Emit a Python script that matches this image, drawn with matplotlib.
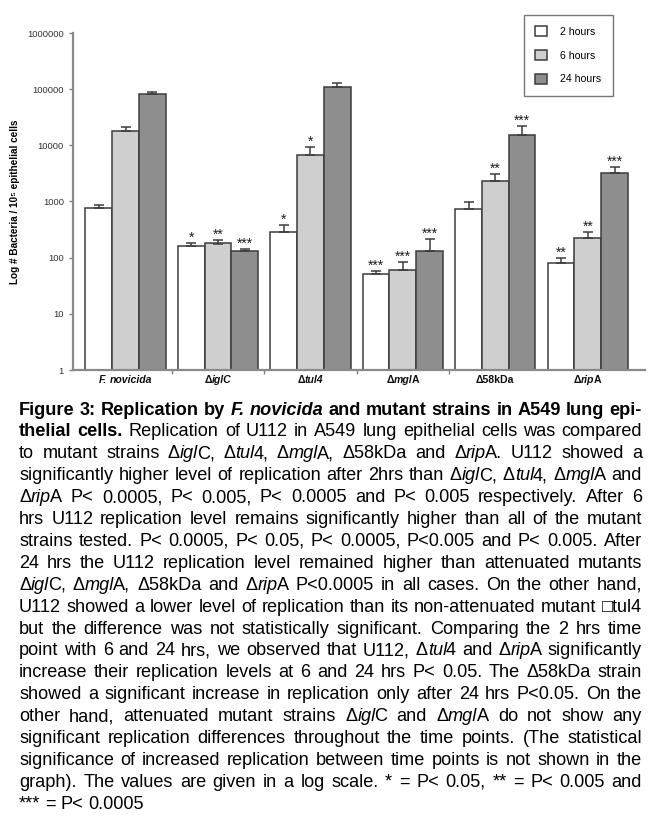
import re
import matplotlib
matplotlib.use('Agg')
import matplotlib.pyplot as plt
import numpy as np

W, H = 659, 830

# data (log scale)
strains = ['<bi>F. novicida</bi>', '<b>Δ</b><bi>iglC</bi>', '<b>Δ</b><bi>tul4</bi>',
           '<b>Δ</b><bi>mgl</bi><b>A</b>', '<b>Δ58kDa</b>', '<b>Δ</b><bi>rip</bi><b>A</b>']
series = ['2 hours', '6 hours', '24 hours']
h2 = [760, 162, 285, 51, 730, 80]
h6 = [17900, 178, 6700, 60, 2300, 224]
h24 = [81700, 131, 108000, 131, 15200, 3200]
e2 = [90, 20, 95, 7, 250, 19]
e6 = [3100, 27, 2600, 24, 780, 64]
e24 = [6300, 11, 20000, 83, 6800, 900]
stars2 = ['', '*', '*', '***', '', '**']
stars6 = ['', '**', '*', '***', '**', '**']
stars24 = ['', '***', '', '***', '***', '***']
yticks = [1, 10, 100, 1000, 10000, 100000, 1000000]

caption = [
    "<b>Figure 3: Replication by </b><bi>F. novicida</bi><b> and mutant strains in A549 lung epi-</b>",
    "<b>thelial cells.</b> Replication of U112 in A549 lung epithelial cells was compared",
    "to mutant strains Δ<i>igl</i>C, Δ<i>tul</i>4, Δ<i>mgl</i>A, Δ58kDa and Δ<i>rip</i>A. U112 showed a",
    "significantly higher level of replication after 2hrs than Δ<i>igl</i>C, Δ<i>tul</i>4, Δ<i>mgl</i>A and",
    "Δ<i>rip</i>A P< 0.0005, P< 0.005, P< 0.0005 and P< 0.005 respectively. After 6",
    "hrs U112 replication level remains significantly higher than all of the mutant",
    "strains tested. P< 0.0005, P< 0.05, P< 0.0005, P<0.005 and P< 0.005. After",
    "24 hrs the U112 replication level remained higher than attenuated mutants",
    "Δ<i>igl</i>C, Δ<i>mgl</i>A, Δ58kDa and Δ<i>rip</i>A P<0.0005 in all cases. On the other hand,",
    "U112 showed a lower level of replication than its non-attenuated mutant □tul4",
    "but the difference was not statistically significant. Comparing the 2 hrs time",
    "point with 6 and 24 hrs, we observed that U112, Δ<i>tul</i>4 and Δ<i>rip</i>A significantly",
    "increase their replication levels at 6 and 24 hrs P< 0.05. The Δ58kDa strain",
    "showed a significant increase in replication only after 24 hrs P<0.05. On the",
    "other hand, attenuated mutant strains Δ<i>igl</i>C and Δ<i>mgl</i>A do not show any",
    "significant replication differences throughout the time points. (The statistical",
    "significance of increased replication between time points is not shown in the",
    "graph). The values are given in a log scale. * = P< 0.05, ** = P< 0.005 and",
    "*** = P< 0.0005",
]

FAM = ['Liberation Sans', 'DejaVu Sans']
STYLES = {'': ('normal', 'normal'), 'i': ('normal', 'italic'),
          'b': ('bold', 'normal'), 'bi': ('bold', 'italic')}

fig = plt.figure(figsize=(W / 100, H / 100), dpi=100)
renderer = fig.canvas.get_renderer()


def parse(s):
    out, pos, style = [], 0, ''
    for m in re.finditer(r'<(/?)(bi|b|i)>', s):
        if m.start() > pos:
            out.append((s[pos:m.start()], style))
        style = '' if m.group(1) else m.group(2)
        pos = m.end()
    if pos < len(s):
        out.append((s[pos:], style))
    return out


def words_of(s):
    words = [[]]
    for txt, st in parse(s):
        for k, p in enumerate(txt.split(' ')):
            if k > 0:
                words.append([])
            if p:
                words[-1].append((p, st))
    return [w for w in words if w]


def make_word(runs, size, color):
    arts, w = [], 0
    for j, (txt, st) in enumerate(runs):
        wgt, sty = STYLES[st]
        t = fig.text(0, 0, txt, fontsize=size, fontweight=wgt, fontstyle=sty,
                     family=FAM, va='baseline', ha='left', color=color)
        arts.append((t, w))
        w += t.get_window_extent(renderer).width
        # italic runs leave a little air before an upright letter
        if 'i' in st and j < len(runs) - 1:
            w -= 0.06 * size
    return arts, w


def space_width(size):
    a = fig.text(0, 0, 'x x', fontsize=size, family=FAM)
    b = fig.text(0, 0, 'xx', fontsize=size, family=FAM)
    d = a.get_window_extent(renderer).width - b.get_window_extent(renderer).width
    a.remove()
    b.remove()
    return d


def natural_width(s, size):
    words = [make_word(w, size, 'k') for w in words_of(s)]
    total = sum(w for _, w in words)
    for arts, _ in words:
        for t, _ in arts:
            t.remove()
    return total + space_width(size) * (len(words) - 1)


def text_line(s, x0, x1, y, size, justify=True, align='left', color='black'):
    words = [make_word(w, size, color) for w in words_of(s)]
    total = sum(w for _, w in words)
    if justify and len(words) > 1:
        gap = (x1 - x0 - total) / (len(words) - 1)
    else:
        gap = space_width(size)
    width = total + gap * (len(words) - 1)
    x = x0 if align == 'left' else (x0 + x1 - width) / 2
    for arts, w in words:
        for t, off in arts:
            t.set_position(((x + off) / W, 1 - y / H))
        x += w + gap


# ---- chart ----
ax = fig.add_axes([73 / W, 1 - 370 / H, 572 / W, 337 / H])
x = np.arange(len(strains))
bw = 0.29
colors = ['white', '#cfcfcf', '#8e8e8e']
vals = [h2, h6, h24]
errs = [e2, e6, e24]
stars = [stars2, stars6, stars24]
handles = []
for k in range(3):
    xs = x + (k - 1) * bw
    b = ax.bar(xs, vals[k], bw, bottom=1, color=colors[k], edgecolor='#3c3c3c',
               linewidth=1.1, zorder=2)
    handles.append(b)
    # upper error only
    v = np.array(vals[k], float)
    e = np.array(errs[k], float)
    ax.errorbar(xs, v, yerr=[np.zeros_like(e), e], fmt='none', ecolor='#3c3c3c',
                elinewidth=1.1, capsize=3.5, capthick=1.1, zorder=3)
    for xi, top, s in zip(xs, v + e, stars[k]):
        if s:
            ax.annotate(s, (xi, top), xytext=(0, 1), textcoords='offset points',
                        ha='center', va='baseline', fontsize=10, color='#1e1e1e',
                        family=FAM)

ax.set_yscale('log')
ax.set_ylim(1, 1000000)
ax.set_xlim(-0.57, 5.62)
ax.set_yticks(yticks)
ax.set_yticklabels([str(v) for v in yticks], fontsize=6.8, color='#333333', family=FAM)
ax.yaxis.set_minor_locator(matplotlib.ticker.NullLocator())
ax.set_xticks(np.arange(4) + 0.5)
ax.set_xticklabels([])
ax.tick_params(axis='both', direction='out', length=3, width=1, color='#808080')
for side in ['top', 'right']:
    ax.spines[side].set_visible(False)
for side in ['left', 'bottom']:
    ax.spines[side].set_color('#8a8a8a')
    ax.spines[side].set_linewidth(1.6)
ax.set_ylabel('Log # Bacteria / 10⁵ epithelial cells', fontsize=7.2, fontweight='bold',
              family=FAM, labelpad=5)

leg = ax.legend(handles, series, loc='upper left', bbox_to_anchor=(524 / W, 1 - 15 / H),
                bbox_transform=fig.transFigure, fancybox=False, edgecolor='#555555',
                handlelength=1.1, handleheight=1.1, labelspacing=1.25,
                borderpad=1.05, handletextpad=1.3, borderaxespad=0,
                prop={'family': FAM, 'size': 7.6})
leg.get_frame().set_linewidth(1.0)

# category labels under the axis
for i, lab in enumerate(strains):
    cx = ax.transData.transform((i, 1))[0]
    text_line(lab, cx, cx, 383, 7.6, justify=False, align='center', color='#111111')

# ---- caption ----
# pick a font size so that the widest justified line just fills the column
left, right = 19, 642
widest = max(natural_width(s, 10) for s in caption[:-1])
size = 10 * (right - left) / widest
for i, line in enumerate(caption):
    last = i == len(caption) - 1
    text_line(line, left, right, 414.5 + i * 21.9, size, justify=not last)

fig.savefig('out.png', dpi=100)
